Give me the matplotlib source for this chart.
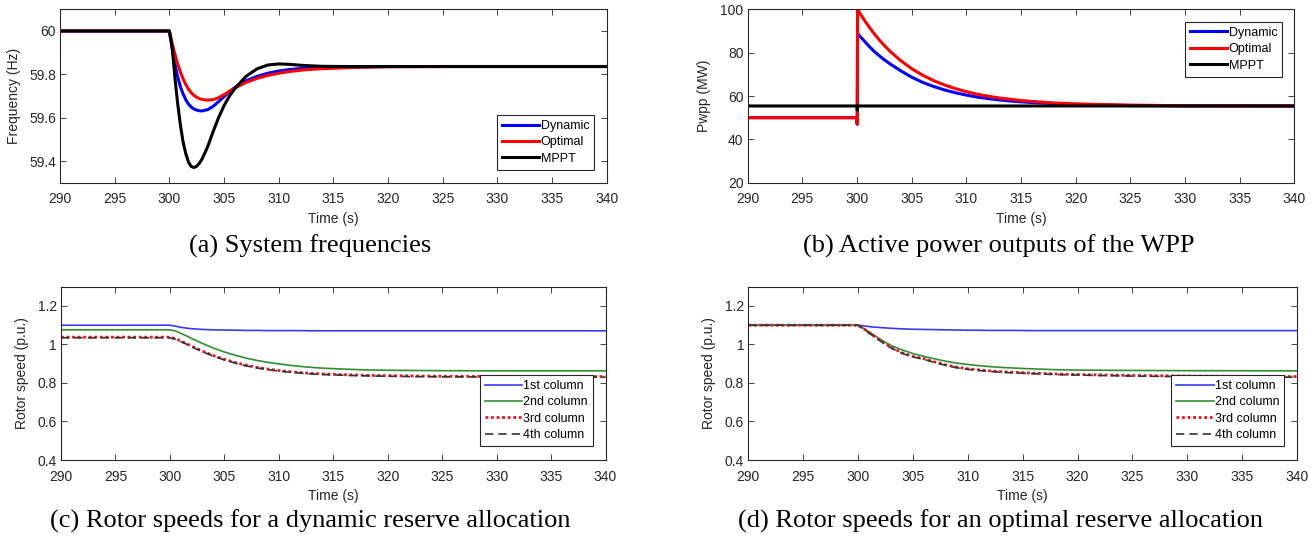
import matplotlib
matplotlib.use('Agg')
import matplotlib.pyplot as plt
from matplotlib.ticker import FuncFormatter

plt.rcParams['font.family'] = 'Liberation Sans'

# (a) system frequency, Hz
t_freq = [290, 300, 300.25, 300.5, 300.75, 301, 301.25, 301.5, 301.75, 302, 302.25, 302.5,
          302.75, 303, 303.5, 304, 304.5, 305, 305.5, 306, 307, 308, 309, 310, 311, 312, 313,
          314, 316, 318, 320, 325, 330, 340]
f_dynamic = [60, 60, 59.92, 59.85, 59.79, 59.745, 59.71, 59.683, 59.663, 59.649, 59.64, 59.635,
             59.632, 59.631, 59.637, 59.652, 59.674, 59.697, 59.72, 59.74, 59.77, 59.79, 59.805,
             59.815, 59.822, 59.827, 59.830, 59.832, 59.834, 59.835, 59.836, 59.836, 59.836, 59.836]
f_optimal = [60, 60, 59.945, 59.895, 59.85, 59.812, 59.78, 59.753, 59.732, 59.715, 59.703, 59.694,
             59.688, 59.684, 59.681, 59.683, 59.692, 59.706, 59.722, 59.737, 59.762, 59.781,
             59.795, 59.805, 59.813, 59.819, 59.823, 59.826, 59.830, 59.833, 59.835, 59.836,
             59.836, 59.836]
f_mppt = [60, 60, 59.93, 59.79, 59.67, 59.57, 59.49, 59.435, 59.395, 59.375, 59.37, 59.376,
          59.39, 59.41, 59.465, 59.535, 59.60, 59.655, 59.70, 59.735, 59.79, 59.825, 59.843,
          59.848, 59.846, 59.842, 59.839, 59.837, 59.836, 59.836, 59.836, 59.836, 59.836, 59.836]

# (b) WPP active power, MW
t_pwr = [290, 300, 300.02, 300.05, 300.25, 300.5, 300.75, 301, 301.5, 302, 302.5, 303, 304, 305,
         306, 307, 308, 309, 310, 311, 312, 313, 314, 315, 316, 318, 320, 322, 325, 330, 340]
p_dynamic = [50, 50, 47, 89, 87.6, 86.3, 84.9, 83.5, 80.9, 78.7, 76.7, 74.9, 71.6, 68.7, 66.3,
             64.4, 62.8, 61.5, 60.4, 59.5, 58.8, 58.2, 57.7, 57.3, 57.0, 56.5, 56.1, 55.9, 55.6,
             55.45, 55.4]
p_optimal = [50, 50, 47, 100, 98.3, 96.3, 94.4, 92.6, 89.2, 86.1, 83.3, 80.7, 76.3, 72.6, 69.6,
             67.1, 65.1, 63.4, 62.0, 60.8, 59.9, 59.1, 58.5, 57.9, 57.5, 56.8, 56.4, 56.1, 55.8,
             55.5, 55.4]
t_mppt = [290, 300, 300.02, 300.05, 340]
p_mppt = [55.4, 55.4, 53.5, 55.4, 55.4]

# (c), (d) rotor speeds, p.u.
t_rot = [290, 300, 300.5, 301, 301.5, 302, 302.5, 303, 304, 305, 306, 307, 308, 309, 310,
         311, 312, 313, 314, 316, 318, 320, 325, 330, 340]
dyn_col1 = [1.100, 1.100, 1.095, 1.089, 1.085, 1.082, 1.080, 1.078, 1.076, 1.075, 1.074, 1.073,
            1.073, 1.072, 1.072, 1.072, 1.072, 1.071, 1.071, 1.071, 1.071, 1.071, 1.071, 1.071, 1.071]
dyn_col2 = [1.076, 1.076, 1.070, 1.058, 1.045, 1.031, 1.018, 1.005, 0.981, 0.961, 0.944, 0.929,
            0.917, 0.907, 0.899, 0.892, 0.886, 0.881, 0.877, 0.872, 0.868, 0.866, 0.864, 0.863, 0.863]
dyn_col3 = [1.038, 1.038, 1.030, 1.018, 1.005, 0.991, 0.978, 0.965, 0.942, 0.923, 0.906, 0.892,
            0.881, 0.872, 0.865, 0.859, 0.854, 0.850, 0.847, 0.843, 0.840, 0.838, 0.835, 0.834, 0.833]
dyn_col4 = [1.035, 1.035, 1.027, 1.015, 1.002, 0.988, 0.975, 0.962, 0.939, 0.920, 0.903, 0.889,
            0.878, 0.869, 0.862, 0.856, 0.851, 0.847, 0.844, 0.840, 0.837, 0.835, 0.832, 0.831, 0.830]
opt_col1 = [1.100, 1.100, 1.097, 1.093, 1.090, 1.088, 1.086, 1.084, 1.081, 1.079, 1.078, 1.077,
            1.076, 1.075, 1.074, 1.074, 1.073, 1.073, 1.073, 1.072, 1.072, 1.072, 1.072, 1.072, 1.072]
opt_col2 = [1.100, 1.100, 1.084, 1.066, 1.047, 1.028, 1.011, 0.995, 0.972, 0.953, 0.938, 0.925,
            0.913, 0.903, 0.896, 0.890, 0.885, 0.881, 0.878, 0.873, 0.869, 0.867, 0.865, 0.864, 0.863]
opt_col3 = [1.100, 1.100, 1.082, 1.062, 1.042, 1.022, 1.003, 0.985, 0.957, 0.938, 0.926, 0.909,
            0.894, 0.882, 0.874, 0.868, 0.863, 0.859, 0.856, 0.851, 0.847, 0.844, 0.839, 0.836, 0.833]
opt_col4 = [1.100, 1.100, 1.080, 1.059, 1.039, 1.019, 1.000, 0.982, 0.954, 0.935, 0.923, 0.906,
            0.891, 0.879, 0.871, 0.865, 0.860, 0.856, 0.853, 0.848, 0.844, 0.841, 0.836, 0.833, 0.830]

x_ticks = [290, 295, 300, 305, 310, 315, 320, 325, 330, 335, 340]
freq_ticks = [59.4, 59.6, 59.8, 60]
pwr_ticks = [20, 40, 60, 80, 100]
rot_ticks = [0.4, 0.6, 0.8, 1, 1.2]

captions = ['(a) System frequencies',
            '(b) Active power outputs of the WPP',
            '(c) Rotor speeds for a dynamic reserve allocation',
            '(d) Rotor speeds for an optimal reserve allocation']

fig = plt.figure(figsize=(13.16, 5.42), dpi=100)
W, H = 1316.0, 542.0


def make_ax(x0, x1, y0, y1):
    return fig.add_axes([x0 / W, 1 - y1 / H, (x1 - x0) / W, (y1 - y0) / H])


def style(ax, yticks, ylim, ylabel, ylab_x):
    ax.set_xlim(290, 340)
    ax.set_ylim(*ylim)
    ax.set_xticks(x_ticks)
    ax.set_yticks(yticks)
    ax.yaxis.set_major_formatter(FuncFormatter(lambda v, p: '%g' % v))
    ax.tick_params(direction='in', top=True, right=True, length=4, width=0.6,
                   labelsize=10, colors='#262626')
    ax.tick_params(axis='x', pad=7)
    ax.tick_params(axis='y', pad=3)
    for s in ax.spines.values():
        s.set_color('#262626')
        s.set_linewidth(0.8)
    ax.set_xlabel('Time (s)', fontsize=10, color='#262626')
    ax.set_ylabel(ylabel, fontsize=10, color='#262626')
    ax.xaxis.set_label_coords(0.5, -0.17)
    ax.yaxis.set_label_coords(ylab_x, 0.5)


def legend(ax, anchor):
    lg = ax.legend(loc='upper right', bbox_to_anchor=anchor, fontsize=9, fancybox=False,
                   framealpha=1, edgecolor='#262626', handlelength=3.0, handletextpad=0.1,
                   labelspacing=0.35, borderpad=0.4, borderaxespad=0)
    lg.get_frame().set_linewidth(0.8)


# (a)
ax = make_ax(60, 606.7, 9.3, 182.7)
ax.plot(t_freq, f_dynamic, color='#0000ff', lw=2.2, label='Dynamic')
ax.plot(t_freq, f_optimal, color='#ff0000', lw=2.2, label='Optimal')
ax.plot(t_freq, f_mppt, color='black', lw=2.2, label='MPPT')
style(ax, freq_ticks, (59.3, 60.1), 'Frequency (Hz)', -0.071)
legend(ax, (0.977, 0.39))

# (b)
ax = make_ax(747.7, 1294.3, 9.3, 182.7)
ax.plot(t_pwr, p_dynamic, color='#0000ff', lw=2.2, label='Dynamic')
ax.plot(t_pwr, p_optimal, color='#ff0000', lw=2.2, label='Optimal')
ax.plot(t_mppt, p_mppt, color='black', lw=2.2, label='MPPT')
style(ax, pwr_ticks, (20, 100), 'Pwpp (MW)', -0.067)
legend(ax, (0.978, 0.928))

# (c) and (d)
for x0, x1, cols in [(61, 605.5, (dyn_col1, dyn_col2, dyn_col3, dyn_col4)),
                     (748.3, 1297, (opt_col1, opt_col2, opt_col3, opt_col4))]:
    ax = make_ax(x0, x1, 286.7, 460)
    ax.plot(t_rot, cols[0], color='#3a3af2', lw=1.2, label='1st column')
    ax.plot(t_rot, cols[1], color='#2f8f2f', lw=1.2, label='2nd column')
    ax.plot(t_rot, cols[2], color='#ee1122', lw=2.0, ls=(0, (1, 1)), label='3rd column')
    ax.plot(t_rot, cols[3], color='#333333', lw=1.2, ls=(0, (5, 3)), label='4th column')
    style(ax, rot_ticks, (0.4, 1.3), 'Rotor speed (p.u.)', -0.059)
    legend(ax, (0.977, 0.49))

# captions
for (cx, cy), txt in zip([(310, 246.7), (999, 246.7), (310, 521.7), (1000, 521.7)], captions):
    fig.text(cx / W, 1 - cy / H, txt, ha='center', va='center', fontsize=19,
             family='Liberation Serif')

fig.savefig('out.png', dpi=100)
